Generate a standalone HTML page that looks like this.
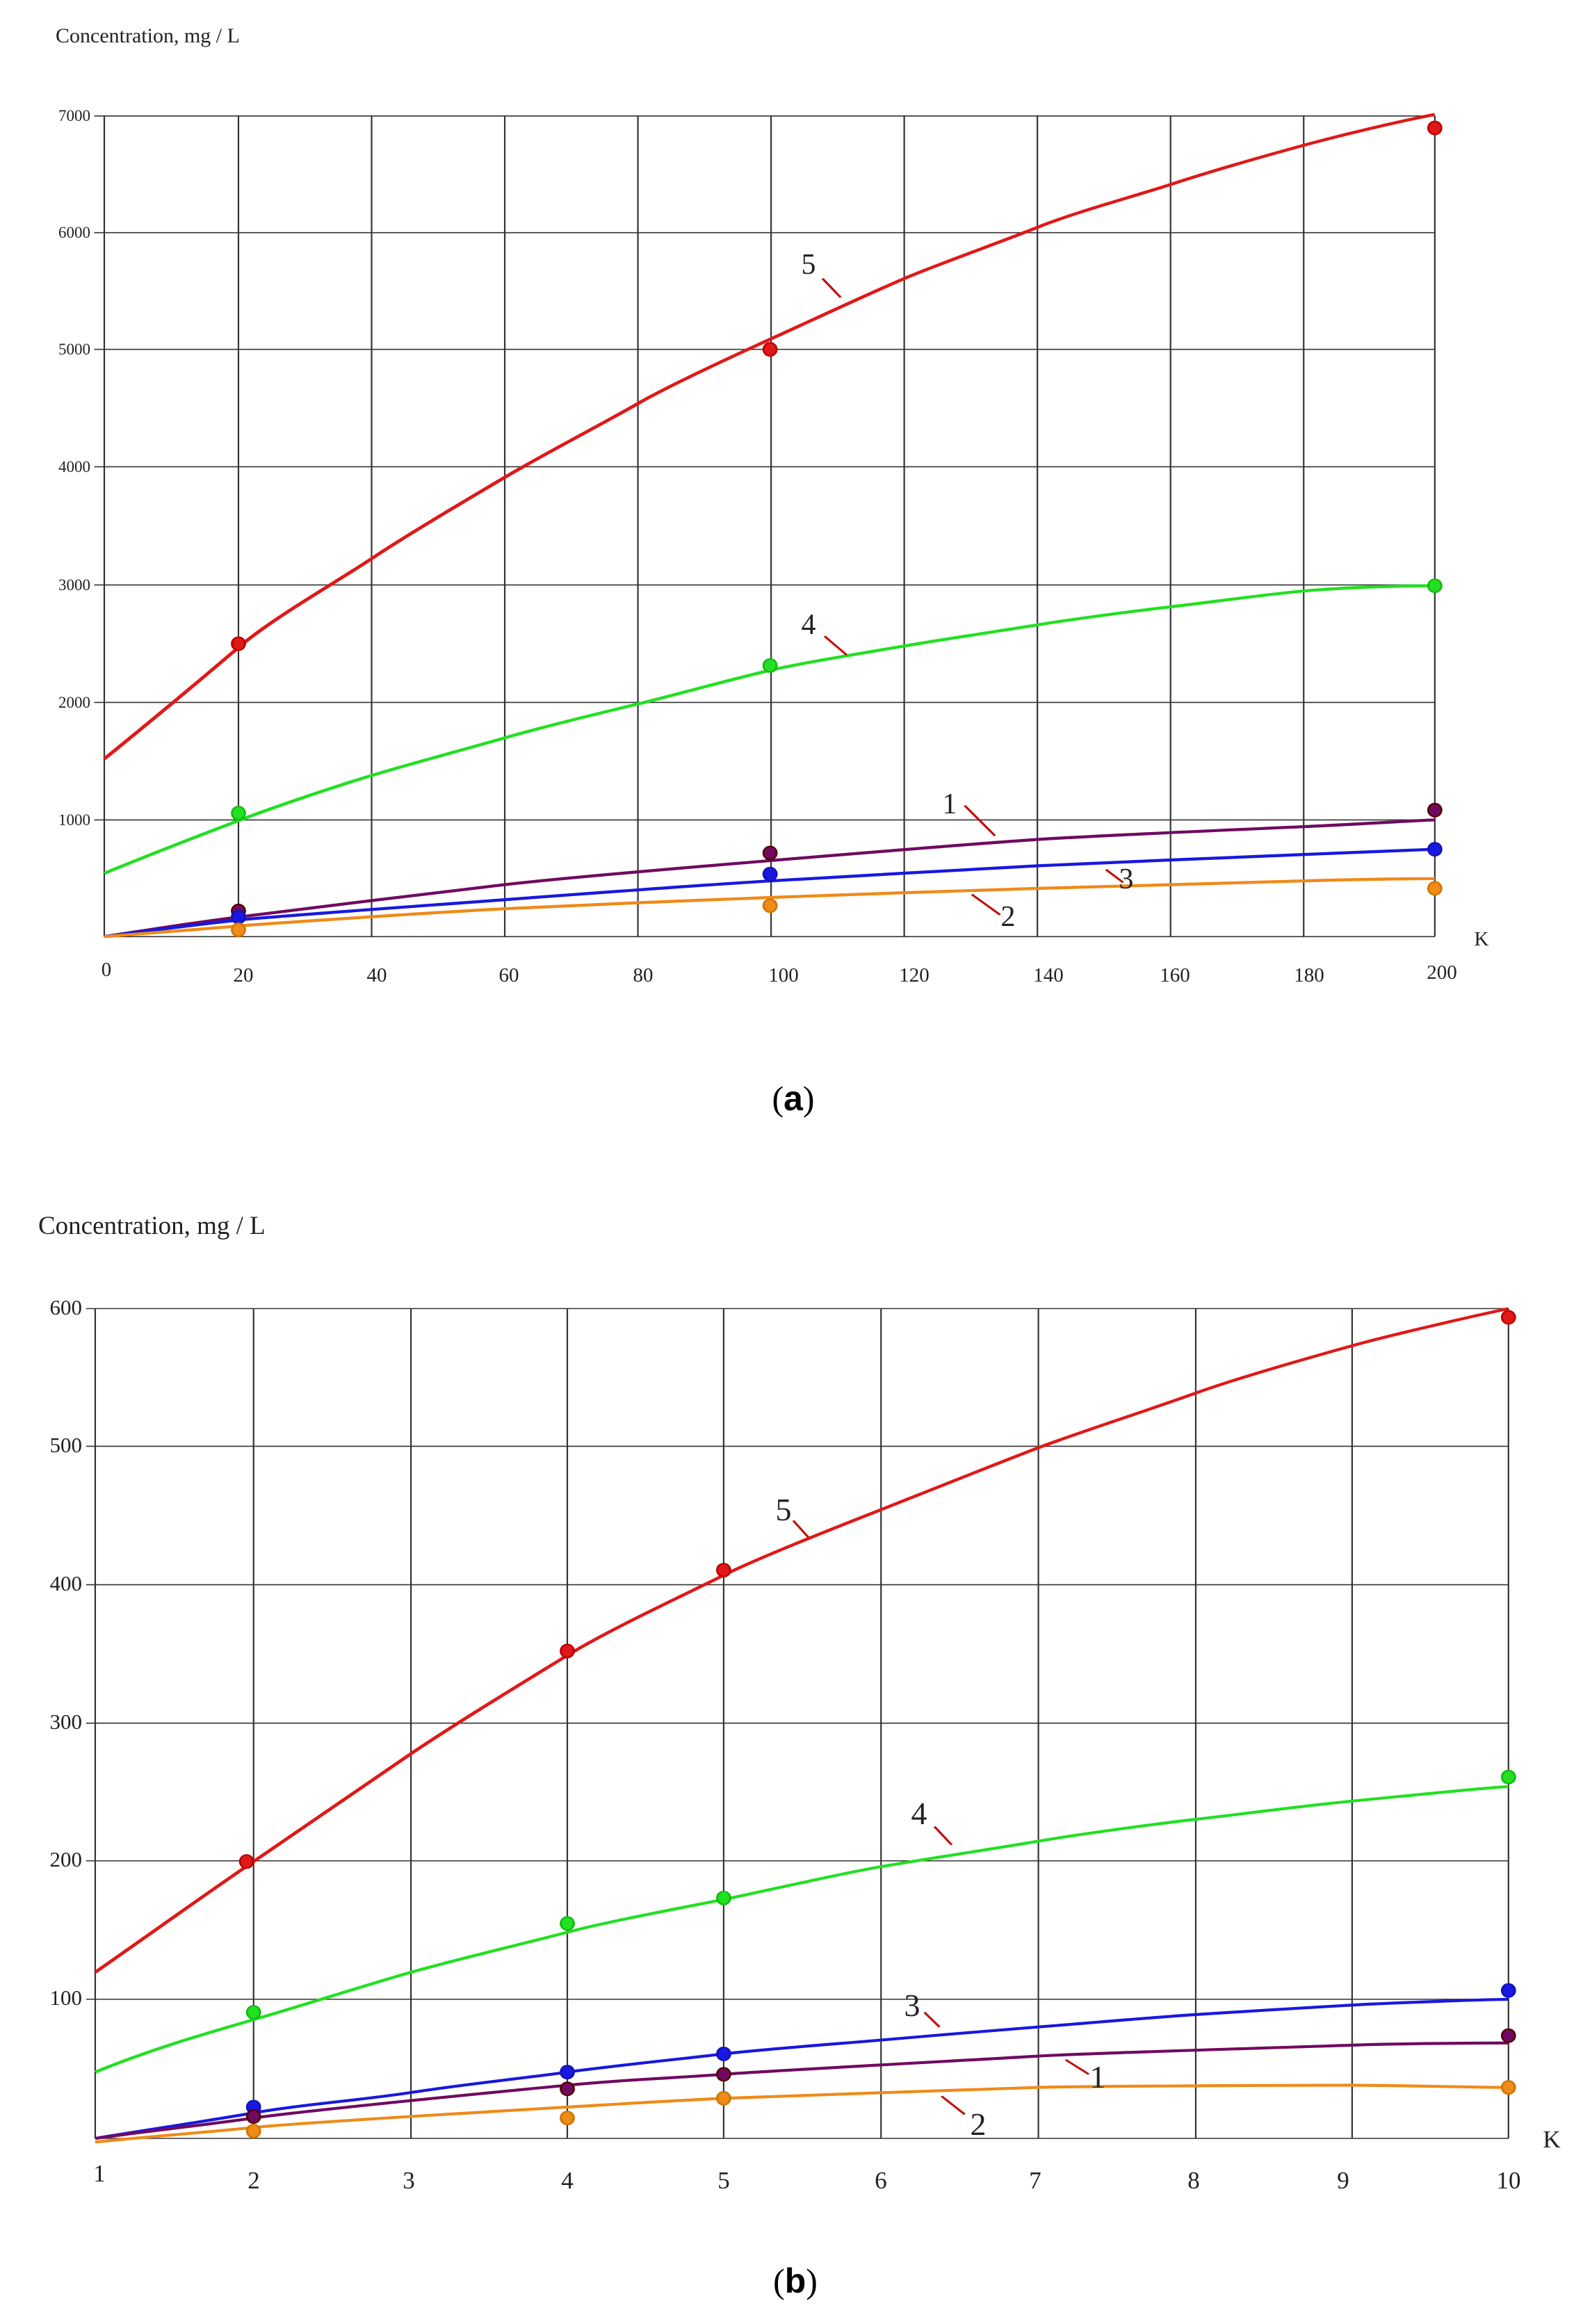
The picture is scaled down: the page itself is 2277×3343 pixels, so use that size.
<!DOCTYPE html>
<html><head><meta charset="utf-8"><style>html,body{margin:0;padding:0;background:#fff}svg{display:block}</style></head>
<body>
<svg width="2277" height="3343" xmlns="http://www.w3.org/2000/svg" font-family="Liberation Serif, serif">
<rect width="2277" height="3343" fill="#fff"/>
<!-- Chart A -->
<g transform="translate(2,0) scale(1.451,1.083)">
<g stroke="#333" stroke-width="1.5" fill="none">
<path d="M102,154V1244M235,154V1244M367,154V1244M499,154V1244M631,154V1244M763,154V1244M895,154V1244M1027,154V1244M1159,154V1244M1291,154V1244M1421,154V1244"/>
<path d="M92,154H1421M92,309H1421M92,464H1421M92,620H1421M92,777H1421M92,933H1421M92,1089H1421M102,1244H1421"/>
</g>
<g fill="none" stroke-width="4">
<path stroke="#e01818" d="M102,1008 C160,945 200,900 235,860 S330,775 367,742 S460,665 499,634 S600,560 631,536 S730,470 763,450 S860,390 895,370 S990,322 1027,302 S1120,262 1159,245 S1250,208 1291,193 S1390,160 1421,152"/>
<path stroke="#22e022" d="M102,1160 C160,1128 200,1108 235,1090 S330,1045 367,1030 S460,995 499,980 S600,945 631,935 S730,900 763,890 S860,866 895,858 S990,838 1027,830 S1120,812 1159,806 S1250,790 1291,785 S1390,778 1421,778"/>
<path stroke="#700a60" d="M102,1244 C170,1230 200,1224 235,1218 S440,1184 499,1175 S700,1150 763,1143 S970,1120 1027,1115 S1240,1101 1291,1098 S1400,1090 1421,1089"/>
<path stroke="#1818e0" d="M102,1244 C170,1232 200,1227 235,1222 S440,1201 499,1195 S700,1175 763,1170 S970,1154 1027,1150 S1240,1138 1291,1135 S1400,1129 1421,1128"/>
<path stroke="#f08a18" d="M102,1244 C170,1237 200,1234 235,1230 S440,1211 499,1207 S700,1195 763,1192 S970,1182 1027,1180 S1240,1172 1291,1170 S1400,1167 1421,1167"/>
</g>
<g stroke-width="2">
<ellipse cx="235" cy="855" rx="6.5" ry="8.7" fill="#e01818" stroke="#b00"/><ellipse cx="762" cy="464" rx="6.5" ry="8.7" fill="#e01818" stroke="#b00"/><ellipse cx="1421" cy="170" rx="6.5" ry="8.7" fill="#e01818" stroke="#b00"/>
<ellipse cx="235" cy="1080" rx="6.5" ry="8.7" fill="#22e022" stroke="#1b1"/><ellipse cx="762" cy="884" rx="6.5" ry="8.7" fill="#22e022" stroke="#1b1"/><ellipse cx="1421" cy="778" rx="6.5" ry="8.7" fill="#22e022" stroke="#1b1"/>
<ellipse cx="235" cy="1210" rx="6.5" ry="8.7" fill="#700a60" stroke="#500"/><ellipse cx="762" cy="1133" rx="6.5" ry="8.7" fill="#700a60" stroke="#500"/><ellipse cx="1421" cy="1076" rx="6.5" ry="8.7" fill="#700a60" stroke="#500"/>
<ellipse cx="235" cy="1218" rx="6.5" ry="8.7" fill="#1818e0" stroke="#11b"/><ellipse cx="762" cy="1161" rx="6.5" ry="8.7" fill="#1818e0" stroke="#11b"/><ellipse cx="1421" cy="1128" rx="6.5" ry="8.7" fill="#1818e0" stroke="#11b"/>
<ellipse cx="235" cy="1235" rx="6.5" ry="8.7" fill="#f08a18" stroke="#c70"/><ellipse cx="762" cy="1203" rx="6.5" ry="8.7" fill="#f08a18" stroke="#c70"/><ellipse cx="1421" cy="1180" rx="6.5" ry="8.7" fill="#f08a18" stroke="#c70"/>
</g>
<g stroke="#c01010" stroke-width="2.5">
<path d="M814,370L832,395M816,845L838,870M955,1070L985,1110M1095,1155L1112,1172M962,1188L990,1215"/>
</g>
</g>
<g font-size="23" text-anchor="end" fill="#222">
<text x="130" y="174">7000</text><text x="130" y="342">6000</text><text x="130" y="510">5000</text><text x="130" y="679">4000</text><text x="130" y="849">3000</text><text x="130" y="1018">2000</text><text x="130" y="1187">1000</text>
</g>
<g font-size="29" text-anchor="middle" fill="#222">
<text x="153" y="1404">0</text><text x="350" y="1412">20</text><text x="542" y="1412">40</text><text x="732" y="1412">60</text><text x="925" y="1412">80</text><text x="1127" y="1412">100</text><text x="1315" y="1412">120</text><text x="1508" y="1412">140</text><text x="1690" y="1412">160</text><text x="1883" y="1412">180</text><text x="2074" y="1408">200</text>
<text x="2131" y="1360">K</text>
</g>
<text x="80" y="61" font-size="30" fill="#222">Concentration, mg / L</text>
<text x="1141" y="1597" font-size="50" text-anchor="middle" fill="#000">(<tspan font-weight="bold" font-family="Liberation Sans, sans-serif">a</tspan>)</text>
<g font-size="42" fill="#222" text-anchor="middle">
<text x="1163" y="394">5</text><text x="1163" y="912">4</text><text x="1366" y="1170">1</text><text x="1620" y="1278">3</text><text x="1450" y="1332">2</text>
</g>

<!-- Chart B -->
<g transform="translate(2,1700) scale(1.451,1.048)">
<g stroke="#333" stroke-width="1.5" fill="none">
<path d="M93,174V1313M250,174V1313M406,174V1313M561,174V1313M716,174V1313M872,174V1313M1028,174V1313M1184,174V1313M1339,174V1313M1494,174V1313"/>
<path d="M84,174H1494M84,363H1494M84,553H1494M84,743H1494M84,932H1494M84,1122H1494M93,1313H1494"/>
</g>
<g fill="none" stroke-width="4">
<path stroke="#e01818" d="M93,1085 C150,1030 200,980 250,933 S360,828 406,785 S520,685 561,650 S680,565 716,540 S830,473 872,450 S990,385 1028,365 S1140,312 1184,290 S1300,240 1339,225 S1460,184 1494,174"/>
<path stroke="#22e022" d="M93,1222 C150,1190 200,1170 250,1150 S360,1103 406,1085 S520,1045 561,1030 S680,995 716,985 S830,950 872,940 S990,914 1028,905 S1140,882 1184,875 S1300,855 1339,850 S1460,833 1494,830"/>
<path stroke="#1818e0" d="M93,1313 C150,1300 200,1290 250,1278 S360,1260 406,1250 S520,1230 561,1222 S680,1203 716,1197 S830,1183 872,1178 S990,1164 1028,1160 S1140,1147 1184,1143 S1300,1133 1339,1130 S1460,1123 1494,1122"/>
<path stroke="#700a60" d="M93,1313 C150,1302 200,1295 250,1285 S500,1248 561,1240 S680,1229 716,1225 S980,1204 1028,1200 S1300,1187 1339,1185 S1460,1182 1494,1182"/>
<path stroke="#f08a18" d="M93,1318 C150,1310 200,1305 250,1298 S500,1275 561,1270 S680,1260 716,1258 S980,1245 1028,1243 S1300,1240 1339,1240 S1460,1243 1494,1243"/>
</g>
<g stroke-width="2">
<ellipse cx="243" cy="933" rx="6.5" ry="9" fill="#e01818" stroke="#b00"/><ellipse cx="561" cy="644" rx="6.5" ry="9" fill="#e01818" stroke="#b00"/><ellipse cx="716" cy="533" rx="6.5" ry="9" fill="#e01818" stroke="#b00"/><ellipse cx="1494" cy="186" rx="6.5" ry="9" fill="#e01818" stroke="#b00"/>
<ellipse cx="250" cy="1140" rx="6.5" ry="9" fill="#22e022" stroke="#1b1"/><ellipse cx="561" cy="1018" rx="6.5" ry="9" fill="#22e022" stroke="#1b1"/><ellipse cx="716" cy="983" rx="6.5" ry="9" fill="#22e022" stroke="#1b1"/><ellipse cx="1494" cy="817" rx="6.5" ry="9" fill="#22e022" stroke="#1b1"/>
<ellipse cx="250" cy="1270" rx="6.5" ry="9" fill="#1818e0" stroke="#11b"/><ellipse cx="561" cy="1222" rx="6.5" ry="9" fill="#1818e0" stroke="#11b"/><ellipse cx="716" cy="1197" rx="6.5" ry="9" fill="#1818e0" stroke="#11b"/><ellipse cx="1494" cy="1110" rx="6.5" ry="9" fill="#1818e0" stroke="#11b"/>
<ellipse cx="250" cy="1283" rx="6.5" ry="9" fill="#700a60" stroke="#500"/><ellipse cx="561" cy="1245" rx="6.5" ry="9" fill="#700a60" stroke="#500"/><ellipse cx="716" cy="1225" rx="6.5" ry="9" fill="#700a60" stroke="#500"/><ellipse cx="1494" cy="1172" rx="6.5" ry="9" fill="#700a60" stroke="#500"/>
<ellipse cx="250" cy="1303" rx="6.5" ry="9" fill="#f08a18" stroke="#c70"/><ellipse cx="561" cy="1285" rx="6.5" ry="9" fill="#f08a18" stroke="#c70"/><ellipse cx="716" cy="1258" rx="6.5" ry="9" fill="#f08a18" stroke="#c70"/><ellipse cx="1494" cy="1243" rx="6.5" ry="9" fill="#f08a18" stroke="#c70"/>
</g>
<g stroke="#c01010" stroke-width="2.5">
<path d="M785,465L800,488M925,885L942,910M915,1140L930,1160M1055,1205L1078,1225M932,1255L955,1280"/>
</g>
</g>
<g font-size="31" text-anchor="end" fill="#222">
<text x="118" y="1891">600</text><text x="118" y="2089">500</text><text x="118" y="2288">400</text><text x="118" y="2487">300</text><text x="118" y="2685">200</text><text x="118" y="2884">100</text>
</g>
<g font-size="35" text-anchor="middle" fill="#222">
<text x="143" y="3138">1</text><text x="365" y="3148">2</text><text x="588" y="3148">3</text><text x="816" y="3148">4</text><text x="1041" y="3148">5</text><text x="1267" y="3148">6</text><text x="1489" y="3148">7</text><text x="1717" y="3148">8</text><text x="1932" y="3148">9</text><text x="2170" y="3148">10</text>
<text x="2232" y="3089">K</text>
</g>
<text x="55" y="1775" font-size="37" fill="#222">Concentration, mg / L</text>
<text x="1144" y="3298" font-size="50" text-anchor="middle" fill="#000">(<tspan font-weight="bold" font-family="Liberation Sans, sans-serif">b</tspan>)</text>
<g font-size="46" fill="#222" text-anchor="middle">
<text x="1127" y="2187">5</text><text x="1322" y="2624">4</text><text x="1312" y="2900">3</text><text x="1579" y="3003">1</text><text x="1407" y="3071">2</text>
</g>
</svg>
</body></html>
